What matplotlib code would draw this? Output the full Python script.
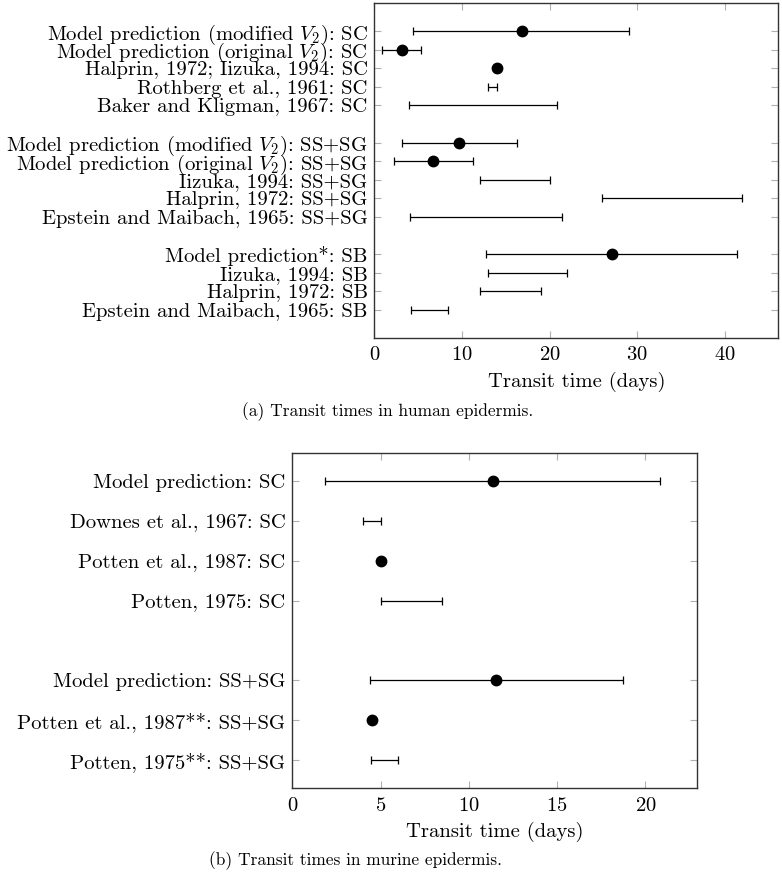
import numpy as np
import matplotlib.pyplot as plt

plt.rcParams['font.family'] = 'serif'
plt.rcParams['font.serif'] = ['cmr10', 'DejaVu Serif']
plt.rcParams['mathtext.fontset'] = 'cm'
plt.rcParams['axes.formatter.use_mathtext'] = True

# (a) human epidermis
human_labels = [
    r'Model prediction (modified $V_2$): SC',
    r'Model prediction (original $V_2$): SC',
    'Halprin, 1972; Iizuka, 1994: SC',
    'Rothberg et al., 1961: SC',
    'Baker and Kligman, 1967: SC',
    r'Model prediction (modified $V_2$): SS+SG',
    r'Model prediction (original $V_2$): SS+SG',
    'Iizuka, 1994: SS+SG',
    'Halprin, 1972: SS+SG',
    'Epstein and Maibach, 1965: SS+SG',
    'Model prediction*: SB',
    'Iizuka, 1994: SB',
    'Halprin, 1972: SB',
    'Epstein and Maibach, 1965: SB',
]
human_pos = [1, 2, 3, 4, 5, 7, 8, 9, 10, 11, 13, 14, 15, 16]
human_lo = [4.4, 0.9, np.nan, 13.0, 3.9, 3.1, 2.2, 12.0, 26.0, 4.0, 12.7, 13.0, 12.0, 4.2]
human_mid = [16.8, 3.1, 14.0, np.nan, np.nan, 9.7, 6.7, np.nan, np.nan, np.nan, 27.1, np.nan, np.nan, np.nan]
human_hi = [29.1, 5.35, np.nan, 14.0, 20.9, 16.3, 11.2, 20.0, 42.0, 21.4, 41.4, 22.0, 19.0, 8.4]

# (b) murine epidermis
mouse_labels = [
    'Model prediction: SC',
    'Downes et al., 1967: SC',
    'Potten et al., 1987: SC',
    'Potten, 1975: SC',
    'Model prediction: SS+SG',
    'Potten et al., 1987**: SS+SG',
    'Potten, 1975**: SS+SG',
]
mouse_pos = [1, 2, 3, 4, 6, 7, 8]
mouse_lo = [1.87, 4.0, np.nan, 5.0, 4.4, np.nan, 4.48]
mouse_mid = [11.34, np.nan, 5.0, np.nan, 11.53, 4.5, np.nan]
mouse_hi = [20.8, 5.0, np.nan, 8.5, 18.7, np.nan, 6.0]


def draw(ax, labels, pos, lo, mid, hi, xlim, ylim, xticks):
    for p, a, m, b in zip(pos, lo, mid, hi):
        if not np.isnan(a):
            c = (a + b) / 2
            ax.errorbar([c], [p], xerr=[[c - a], [b - c]], fmt='none',
                        ecolor='black', elinewidth=0.9, capsize=3.2, capthick=0.9)
        if not np.isnan(m):
            ax.plot([m], [p], 'o', color='black', markersize=7.5, zorder=3)
    ax.set_xlim(*xlim)
    ax.set_ylim(*ylim)
    ax.set_yticks(pos)
    ax.set_yticklabels(labels, fontsize=14.9)
    ax.set_xticks(xticks)
    ax.tick_params(axis='x', labelsize=14.9, direction='in', top=True, length=5,
                   color='#b0b0b0', pad=6)
    ax.tick_params(axis='y', direction='in', right=True, length=5,
                   color='#b0b0b0', pad=5)
    ax.set_xlabel('Transit time (days)', fontsize=14.9, labelpad=5)
    for s in ax.spines.values():
        s.set_linewidth(1.0)
        s.set_color('#333333')


fig = plt.figure(figsize=(7.82, 8.8), dpi=100)

ax1 = fig.add_axes([0.4789, 0.6159, 0.516, 0.3807])
draw(ax1, human_labels, human_pos, human_lo, human_mid, human_hi,
     (0, 46.1), (17.5, -0.5), [0, 10, 20, 30, 40])

ax2 = fig.add_axes([0.3738, 0.1042, 0.5171, 0.3814])
draw(ax2, mouse_labels, mouse_pos, mouse_lo, mouse_mid, mouse_hi,
     (0, 22.9), (8.7, 0.3), [0, 5, 10, 15, 20])

fig.text(0.4955, 1 - 412 / 880, '(a) Transit times in human epidermis.',
         ha='center', va='center', fontsize=12.5)
fig.text(0.4546, 1 - 861 / 880, '(b) Transit times in murine epidermis.',
         ha='center', va='center', fontsize=12.5)

fig.savefig('out.png', dpi=100)
